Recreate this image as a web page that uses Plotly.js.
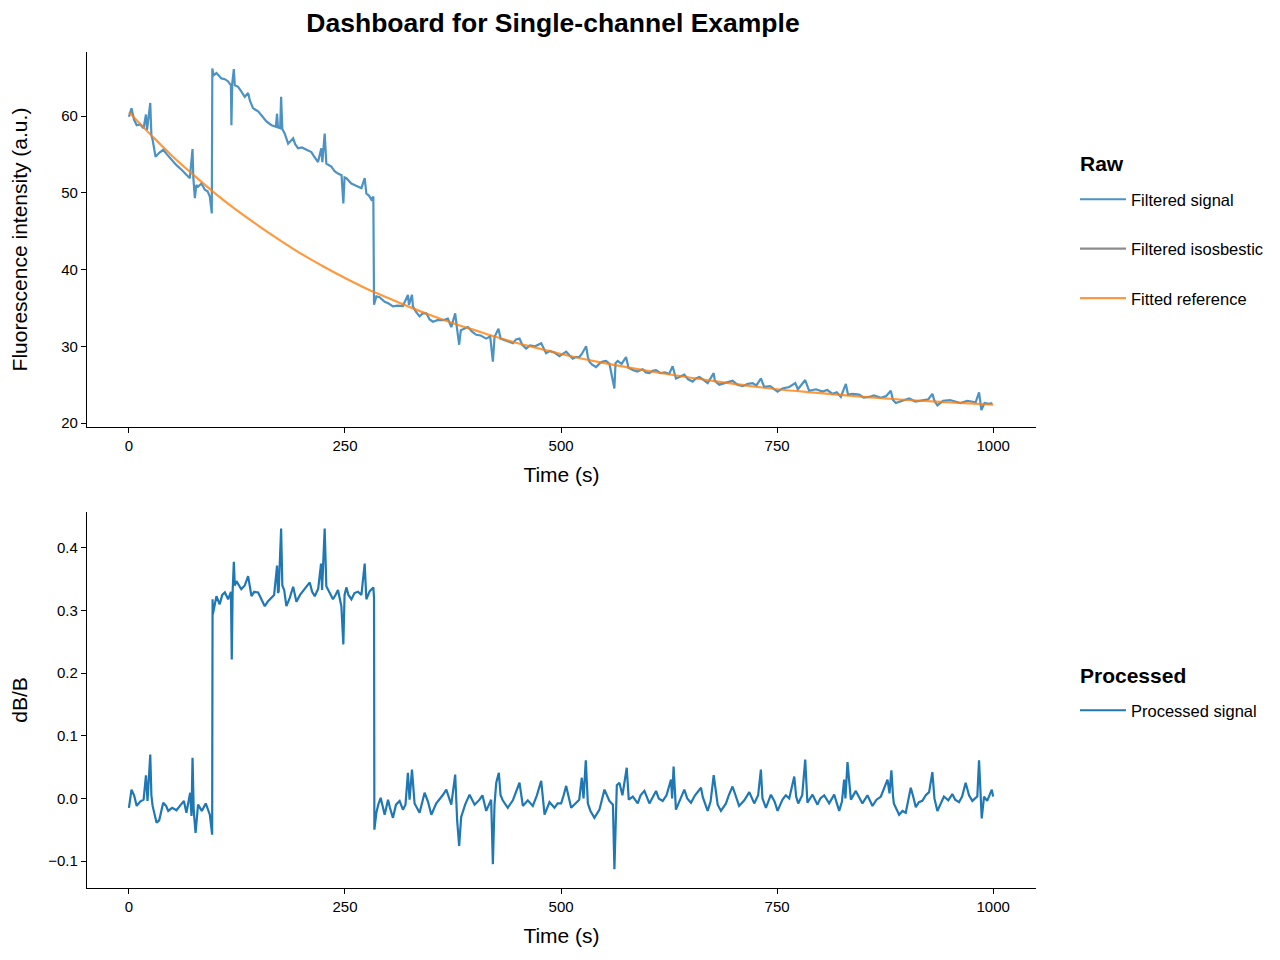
<!DOCTYPE html>
<html>
<head>
<meta charset="utf-8">
<script src="https://cdn.plot.ly/plotly-3.0.1.min.js"></script>
<style>html,body{margin:0;padding:0;background:#fff;}#chart{width:1280px;height:960px;}</style>
</head>
<body>
<div id="chart"></div>
<script>
// ---------- Raw panel: filtered signal (time s, fluorescence a.u.) ----------
const rawTime = [0,3,6,9,13,17,19.7,21,24.7,26,27.4,30.8,35,39.7,44,49.3,55,60.9,66.5,70.5,73.6,74.5,76.3,78,80.1,84,87.8,91,93.6,95.9,96.5,98,101.3,104,107,111,114.8,118,118.6,119.5,121.4,122.5,126.3,130,134,137.9,140,143.7,149.5,154,159.1,165,170,171.4,172.5,175,176.1,177.5,180.3,184.2,187,190,192.5,195.7,200,203.4,207,211.1,215,218.8,222.6,223.8,226.5,228.4,234.2,238,241.9,246,248.1,249.5,251.6,257.4,261,265,269,272.8,274.7,278,280.5,282.8,283.6,286.3,290,295.9,300,305.5,311,317,322.8,324,327.5,328.6,332,336.3,340,344,348,351.7,357,363.3,369,373,377.5,379.5,382.1,384,388,392.2,397,401.9,407,413.4,418,421.1,423,425,427.6,430,434.6,440,444.2,448,451.9,455,459.6,464,470,477,482.7,487,492,498.1,502,505.9,510,513.5,517,521,524,529,531,532.8,536,540.5,545,548,552.1,556,561.7,563,565.5,570,575.2,578,582.9,588,594.4,598,602.2,606,609.8,615,620,625,629.1,632.9,637,642.5,647,652.2,656,660,664,669.6,676.6,678,683,690,698.4,704,710,716,721.6,726,731.2,735,742,750.5,756,764,771,774,782.5,787,795,802.5,808,814,819,823.7,829.5,832,837.2,845,850,856.4,862,870,876,881.5,884,887.3,893,902.7,910,918,925,929.6,932,935.4,942,950,956.6,962,970,979.7,983.6,986.3,990,995,999];
const rawSignal = [59.9,61.0,59.5,58.8,58.9,58.4,60.2,58.2,61.7,57.5,56.9,54.7,55.2,55.6,55.0,54.3,53.6,53.0,52.3,51.9,55.7,52.0,49.3,51.0,50.8,51.2,50.4,50.2,49.5,47.3,66.2,65.3,65.6,65.3,64.9,64.8,64.5,64.0,58.8,64.2,66.1,64.0,63.8,63.2,62.5,63.0,62.0,61.0,60.6,60.0,59.3,58.8,58.6,60.3,58.5,58.4,62.5,58.3,57.7,56.4,56.8,57.1,56.3,55.8,55.9,55.7,55.5,55.3,54.6,54.0,55.8,54.0,57.7,53.8,53.4,52.8,52.5,52.3,48.6,52.0,51.9,51.2,51.0,50.8,50.6,51.9,49.9,49.6,49.1,49.5,35.4,36.5,36.4,35.8,35.6,35.2,35.3,35.25,36.7,35.4,36.7,35.2,34.5,33.9,34.3,34.3,33.5,33.2,33.4,33.4,33.6,32.5,34.3,32.4,30.2,32.1,32.3,32.5,31.9,31.5,31.4,31.0,31.3,28.0,31.2,31.8,32.3,31.0,30.8,30.6,30.4,30.9,31.0,30.2,29.7,30.1,30.0,30.4,29.1,29.4,29.2,28.7,29.0,29.3,28.8,28.4,28.6,28.6,29.0,30.0,28.6,28.0,27.6,27.3,27.8,28.0,28.1,27.7,24.5,27.8,28.1,27.7,28.6,27.2,26.9,26.7,27.0,26.6,26.5,26.8,26.9,26.5,26.6,26.4,27.4,25.8,26.0,26.3,25.7,25.4,25.8,26.0,25.7,25.2,26.5,25.5,25.0,25.2,25.5,25.0,24.8,25.1,25.2,24.9,25.8,24.7,24.8,24.1,24.5,24.7,25.2,24.4,25.6,24.2,24.4,24.1,24.3,23.8,24.0,23.4,25.1,23.7,23.8,23.7,23.3,23.4,23.6,23.3,23.5,24.2,23.0,22.6,22.8,23.2,22.8,23.0,23.1,23.8,22.9,22.3,22.9,23.0,22.8,22.6,22.9,22.7,24.0,21.7,22.6,22.5,22.6];

// ---------- Raw panel: fitted reference ----------
const fitTime = [0,25,50,75,100,125,150,175,200,225,250,275,300,325,350,375,400,425,450,475,500,550,600,650,700,750,800,850,900,950,1000];
const fitRef  = [60.5,57.6,54.8,52.3,49.9,47.7,45.7,43.8,42.0,40.4,38.9,37.5,36.3,35.1,34.0,33.0,32.1,31.2,30.4,29.7,29.0,27.8,26.8,25.9,25.1,24.4,23.9,23.4,23.0,22.7,22.4];

// ---------- Raw panel: filtered isosbestic (no visible samples in the figure) ----------
const isoTime = [null];
const isoValues = [null];

// ---------- Processed panel: dB/B ----------
const procTime = [0,3,6,9,13,17,19.7,21.5,24.7,26,27.4,30,32,35,39.7,43,45.5,50,55,59,63.6,66.5,70.9,72.4,73.6,75,77.1,80,84.3,88.9,93.6,96.3,96.8,97.1,101.3,105,108,111,114.8,118,119,120,121.4,122.5,124.4,127,130,134,137.9,141.8,145,149.5,153,157.2,161,164.9,168,171.4,172.5,173.3,176.1,177.5,179.6,182.2,186,190,193.8,198,203.4,209.2,212,215,219,222.3,223.5,226.5,228.4,232,236.1,239,241.9,245.8,248.1,249.5,251.6,254,257.4,261,265,269,272.8,274.7,278.6,282.8,283.6,284,286.3,288.5,291.3,295.9,299.8,302,305.5,309,313.2,317,320,322.8,324.7,327.5,330.5,336.3,342.1,346,349.9,355.6,359.5,363,367.2,373,377.5,379.8,382.1,384.4,389,394.1,400,405.7,409,413.4,419.1,421.1,423,425,428,430,432.5,438.3,444.2,448,451.9,455.8,461.5,467.3,472,477,480.9,486.6,492.4,496,500.1,503,505.9,511.7,517.4,521,524,526,528.6,531,534,538.6,544.4,550.2,555.9,560,561.7,564.5,567.5,571,576,578.3,583,588.7,592,596.4,602.2,606,609.9,613,617.6,622,627.2,628.5,630.2,632.9,637,642.6,646,650.3,655,661.9,664,669.6,673,676.6,681.2,685,690.8,694,698.4,702,706,712,717.8,723.5,728,731.2,733,737,742.8,747,750.5,756.2,760,764,769.8,772,774.4,779,782.5,785,790.9,796.7,800,804.4,810.2,816,821.8,825,827.5,829,831.4,835.3,841,848.7,854.5,860.3,865,870,877.7,880,882.2,884,885,891.1,895,898.8,904.6,908,910.4,914,918,922,925.8,929.6,932,935.4,939,943,948,952.7,956,960.4,964,968.1,972,975.8,979,981.6,983.6,986.7,989.4,993,996,998.3,999.9];
const procSignal = [-0.015,0.014,0.005,-0.012,-0.005,-0.002,0.037,-0.004,0.070,0.005,-0.012,-0.030,-0.039,-0.035,-0.007,-0.012,-0.020,-0.015,-0.019,-0.012,-0.004,-0.023,0.009,-0.028,0.065,-0.020,-0.055,-0.010,-0.020,-0.008,-0.026,-0.058,0.318,0.294,0.323,0.310,0.325,0.329,0.318,0.330,0.222,0.330,0.378,0.340,0.347,0.340,0.334,0.340,0.355,0.323,0.330,0.329,0.318,0.307,0.315,0.321,0.325,0.372,0.328,0.331,0.431,0.340,0.333,0.307,0.320,0.338,0.314,0.325,0.334,0.345,0.330,0.323,0.335,0.375,0.333,0.431,0.339,0.330,0.318,0.325,0.333,0.307,0.246,0.325,0.337,0.325,0.318,0.328,0.330,0.325,0.375,0.318,0.331,0.337,0.320,-0.050,-0.023,-0.010,0.001,-0.026,-0.002,-0.015,-0.031,-0.010,-0.004,-0.018,-0.010,0.041,-0.002,0.046,-0.008,-0.023,0.009,-0.005,-0.026,-0.008,-0.002,0.005,0.014,-0.010,0.038,-0.036,-0.076,-0.030,-0.010,0.006,-0.010,-0.002,0.005,-0.020,-0.002,-0.105,-0.010,0.025,0.041,0.005,-0.003,-0.015,-0.003,0.010,0.025,-0.012,-0.003,-0.012,0.005,0.028,-0.026,-0.006,-0.015,-0.008,-0.008,0.005,0.020,-0.015,-0.006,-0.002,0.033,0.000,0.061,-0.008,-0.020,-0.031,-0.018,0.014,-0.004,-0.010,-0.113,0.021,0.025,0.005,0.049,-0.002,0.003,-0.008,0.005,0.012,-0.008,0.002,0.012,0.000,-0.004,0.005,0.030,0.000,0.051,-0.018,-0.005,0.014,0.000,-0.007,0.005,0.017,0.002,-0.020,-0.005,0.037,-0.010,-0.020,-0.008,0.005,0.019,0.003,-0.012,-0.003,0.010,-0.008,0.005,0.046,0.000,-0.015,0.006,-0.005,-0.020,-0.002,0.005,0.000,0.035,0.003,-0.008,0.005,0.062,-0.007,0.006,-0.010,0.000,0.005,-0.008,0.006,-0.020,-0.005,0.030,0.000,0.058,-0.002,0.012,-0.008,0.005,-0.012,-0.002,0.003,0.030,0.008,0.045,0.005,-0.008,-0.026,-0.020,-0.023,0.017,0.000,-0.014,-0.006,-0.004,0.005,0.010,0.042,0.000,-0.020,-0.008,0.003,-0.003,0.007,-0.002,-0.006,0.003,0.025,0.005,-0.004,0.000,0.003,0.061,-0.032,0.003,-0.004,0.006,0.014,0.003];

// ---------- Ticks ----------
const timeTicks = [0, 250, 500, 750, 1000];
const rawTicks = [20, 30, 40, 50, 60];
const procTicks = [-0.1, 0.0, 0.1, 0.2, 0.3, 0.4];

const FONT = 'Liberation Sans, Arial, Helvetica, sans-serif';

const traces = [
  {x: rawTime, y: rawSignal, type: 'scatter', mode: 'lines', name: 'Filtered signal',
   line: {color: 'rgba(31,119,180,0.8)', width: 2.2}, xaxis: 'x', yaxis: 'y', legend: 'legend', legendgroup: 'a'},
  {x: isoTime, y: isoValues, type: 'scatter', mode: 'lines', name: 'Filtered isosbestic',
   line: {color: 'rgba(127,127,127,0.9)', width: 2.2}, xaxis: 'x', yaxis: 'y', legend: 'legend', legendgroup: 'b'},
  {x: fitTime, y: fitRef, type: 'scatter', mode: 'lines', name: 'Fitted reference',
   line: {color: 'rgba(255,127,14,0.8)', width: 2.2, shape: 'spline'}, xaxis: 'x', yaxis: 'y', legend: 'legend', legendgroup: 'c'},
  {x: procTime, y: procSignal, type: 'scatter', mode: 'lines', name: 'Processed signal',
   line: {color: '#1f77b4', width: 2.2}, xaxis: 'x2', yaxis: 'y2', legend: 'legend2', legendgroup: 'd'}
];

const axisCommon = {
  showline: true, linecolor: '#000', linewidth: 1.2, mirror: false,
  showgrid: false, zeroline: false, ticks: 'outside', ticklen: 5, tickwidth: 1.2, tickcolor: '#000',
  tickfont: {family: FONT, size: 15, color: '#000'}
};

const legendCommon = {
  xanchor: 'left', yanchor: 'top', bgcolor: 'rgba(0,0,0,0)', itemwidth: 46,
  font: {family: FONT, size: 16.5, color: '#000'}, tracegroupgap: 25, traceorder: 'grouped'
};

const layout = {
  width: 1280, height: 960,
  paper_bgcolor: '#fff', plot_bgcolor: '#fff',
  font: {family: FONT, color: '#000'},
  margin: {l: 87, r: 243, t: 52, b: 72},
  title: {text: '<b>Dashboard for Single-channel Example</b>', font: {family: FONT, size: 26.5, color: '#000'},
          xref: 'container', yref: 'container', x: 553/1280, xanchor: 'center', y: 1 - 23/960, yanchor: 'middle'},
  showlegend: true,
  xaxis: Object.assign({}, axisCommon, {domain: [0, 1], anchor: 'y', range: [-48.5, 1049.5],
          tickvals: timeTicks, ticktext: timeTicks.map(String),
          title: {text: 'Time (s)', font: {family: FONT, size: 21}, standoff: 14}}),
  yaxis: Object.assign({}, axisCommon, {domain: [0.5514, 1], anchor: 'x', range: [19.48, 68.34],
          tickvals: rawTicks, ticktext: rawTicks.map(String),
          title: {text: 'Fluorescence intensity (a.u.)', font: {family: FONT, size: 21}, standoff: 27}}),
  xaxis2: Object.assign({}, axisCommon, {domain: [0, 1], anchor: 'y2', range: [-48.5, 1049.5],
          tickvals: timeTicks, ticktext: timeTicks.map(String),
          title: {text: 'Time (s)', font: {family: FONT, size: 21}, standoff: 14}}),
  yaxis2: Object.assign({}, axisCommon, {domain: [0, 0.4498], anchor: 'x2', range: [-0.1431, 0.4575],
          tickvals: procTicks, tickformat: '.1f',
          title: {text: 'dB/B', font: {family: FONT, size: 21}, standoff: 14}}),
  legend: Object.assign({}, legendCommon, {x: 1.04, y: (888 - 182) / 836}),
  legend2: Object.assign({}, legendCommon, {x: 1.04, y: (888 - 693) / 836}),
  annotations: [
    {text: '<b>Raw</b>', xref: 'paper', yref: 'paper', x: (1079 - 87) / 950, y: (888 - 163) / 836,
     xanchor: 'left', yanchor: 'middle', showarrow: false, font: {family: FONT, size: 21, color: '#000'}},
    {text: '<b>Processed</b>', xref: 'paper', yref: 'paper', x: (1079 - 87) / 950, y: (888 - 675) / 836,
     xanchor: 'left', yanchor: 'middle', showarrow: false, font: {family: FONT, size: 21, color: '#000'}}
  ]
};

Plotly.newPlot('chart', traces, layout, {displayModeBar: false, responsive: false});
</script>
</body>
</html>
